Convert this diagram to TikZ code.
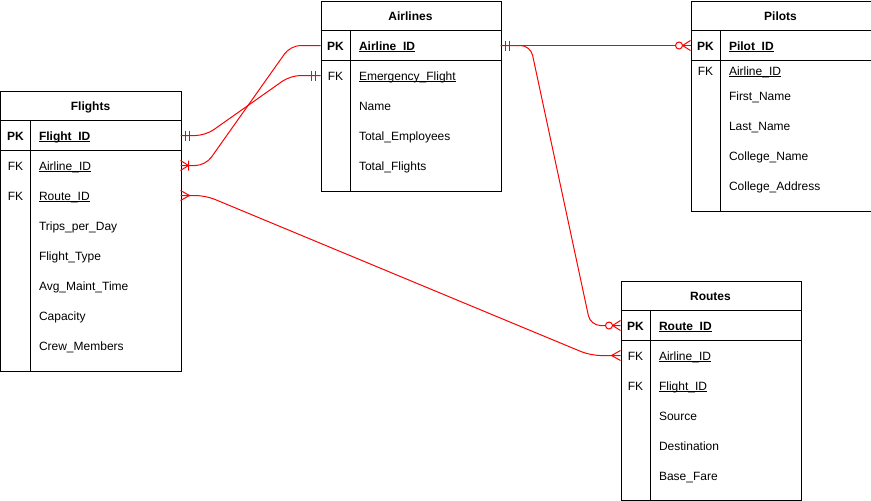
\documentclass[tikz,border=0pt]{standalone}
\usepackage{fontspec}
\setmainfont{Liberation Sans}
\newcommand\ulx[1]{\setbox0\hbox{#1}\rlap{\rule[-1.8pt]{\wd0}{0.7pt}}\box0}
\begin{document}
\begin{tikzpicture}[x=1pt,y=-1pt,line width=1pt,
  tbl/.style={draw=black,line width=1pt,inner sep=0,anchor=north west,minimum width=180pt},
  ttl/.style={font=\fontsize{12}{14}\selectfont\bfseries,anchor=base,inner sep=0},
  keyt/.style={font=\fontsize{12}{14}\selectfont,anchor=base,inner sep=0},
  keyb/.style={font=\fontsize{12}{14}\selectfont\bfseries,anchor=base,inner sep=0},
  fld/.style={font=\fontsize{12}{14}\selectfont,anchor=base west,inner sep=0},
  fldb/.style={font=\fontsize{12}{14}\selectfont\bfseries,anchor=base west,inner sep=0},
  rel/.style={draw=red,line width=1pt,rounded corners=10pt},
  erone/.pic={\draw[red,line width=1pt] (5,-5)--(5,5) (9,-5)--(9,5);},
  ermany/.pic={\draw[red,line width=1pt] (0,-5)--(9,0)--(0,5);},
  eronemany/.pic={\draw[red,line width=1pt] (0,-5)--(8,0)--(0,5) (8,-5)--(8,5);},
  erzeromany/.pic={\draw[red,line width=1pt] (0,-5)--(8,0)--(0,5);
    \draw[red,line width=1pt,fill=white] (11.5,0) circle (3.5pt);}
]
\useasboundingbox (-0.5,-0.5) rectangle (870.5,500.5);

% ---------- Flights ----------
\node[tbl,minimum height=280pt] (flights) at (0,90) {};
\draw (0,120)--(180,120) (0,150)--(180,150) (30,120)--(30,370);
\node[ttl] (flT) at (90,109.5) {Flights};
\node[keyb] (flK1) at (15,139.5) {PK};
\node[fldb] (flF1) at (38,139.5) {\ulx{Flight\_ID}};
\node[keyt] (flK2) at (15,169.5) {FK};
\node[fld] (flF2) at (38,169.5) {\ulx{Airline\_ID}};
\node[keyt] (flK3) at (15,199.5) {FK};
\node[fld] (flF3) at (38,199.5) {\ulx{Route\_ID}};
\node[fld] (flF4) at (38,229.5) {Trips\_per\_Day};
\node[fld] (flF5) at (38,259.5) {Flight\_Type};
\node[fld] (flF6) at (38,289.5) {Avg\_Maint\_Time};
\node[fld] (flF7) at (38,319.5) {Capacity};
\node[fld] (flF8) at (38,349.5) {Crew\_Members};
\coordinate (flPKr) at (180,135);
\coordinate (flAIr) at (180,165);
\coordinate (flRTr) at (180,195);

% ---------- Airlines ----------
\node[tbl,minimum height=190pt] (airlines) at (320,0) {};
\draw (320,30)--(500,30) (320,60)--(500,60) (350,30)--(350,190);
\node[ttl] (alT) at (410,19.5) {Airlines};
\node[keyb] (alK1) at (335,49.5) {PK};
\node[fldb] (alF1) at (358,49.5) {\ulx{Airline\_ID}};
\node[keyt] (alK2) at (335,79.5) {FK};
\node[fld] (alF2) at (358,79.5) {\ulx{Emergency\_Flight}};
\node[fld] (alF3) at (358,109.5) {Name};
\node[fld] (alF4) at (358,139.5) {Total\_Employees};
\node[fld] (alF5) at (358,169.5) {Total\_Flights};
\coordinate (alPKl) at (320,45);
\coordinate (alFKl) at (320,75);
\coordinate (alPKr) at (500,45);

% ---------- Pilots ----------
\node[tbl,minimum height=210pt] (pilots) at (690,0) {};
\draw (690,30)--(870,30) (690,60)--(870,60) (720,30)--(720,210);
\node[ttl] (piT) at (780,19.5) {Pilots};
\node[keyb] (piK1) at (705,49.5) {PK};
\node[fldb] (piF1) at (728,49.5) {\ulx{Pilot\_ID}};
\node[keyt] (piK2) at (705,74.5) {FK};
\node[fld] (piF2) at (728,74.5) {\ulx{Airline\_ID}};
\node[fld] (piF3) at (728,99.5) {First\_Name};
\node[fld] (piF4) at (728,129.5) {Last\_Name};
\node[fld] (piF5) at (728,159.5) {College\_Name};
\node[fld] (piF6) at (728,189.5) {College\_Address};
\coordinate (piPKl) at (690,45);

% ---------- Routes ----------
\node[tbl,minimum height=219pt] (routes) at (620,280) {};
\draw (620,310)--(800,310) (620,340)--(800,340) (650,310)--(650,499);
\node[ttl] (roT) at (710,299.5) {Routes};
\node[keyb] (roK1) at (635,329.5) {PK};
\node[fldb] (roF1) at (658,329.5) {\ulx{Route\_ID}};
\node[keyt] (roK2) at (635,359.5) {FK};
\node[fld] (roF2) at (658,359.5) {\ulx{Airline\_ID}};
\node[keyt] (roK3) at (635,389.5) {FK};
\node[fld] (roF3) at (658,389.5) {\ulx{Flight\_ID}};
\node[fld] (roF4) at (658,419.5) {Source};
\node[fld] (roF5) at (658,449.5) {Destination};
\node[fld] (roF6) at (658,479.5) {Base\_Fare};
\coordinate (roPKl) at (620,325);
\coordinate (roAIl) at (620,355);

% ---------- Relationships ----------
\draw[rel] (flPKr) -- ++(25,0) -- ([xshift=-30pt]alFKl) -- (alFKl);
\draw[rel] (flAIr) -- ++(25,0) -- ([xshift=-30pt]alPKl) -- (alPKl);
\draw[rel] (alPKr) -- (piPKl);
\draw[rel] (alPKr) -- ++(30,0) -- ([xshift=-30pt]roPKl) -- (roPKl);
\draw[rel] (flRTr) -- ++(25,0) -- ([xshift=-30pt]roAIl) -- (roAIl);

\pic at (flPKr) {erone};
\pic at (flAIr) {eronemany};
\pic at (flRTr) {ermany};
\pic[xscale=-1] at (alFKl) {erone};
\pic at (alPKr) {erone};
\pic[xscale=-1] at (piPKl) {erzeromany};
\pic[xscale=-1] at (roPKl) {erzeromany};
\pic[xscale=-1] at (roAIl) {ermany};
\end{tikzpicture}
\end{document}
